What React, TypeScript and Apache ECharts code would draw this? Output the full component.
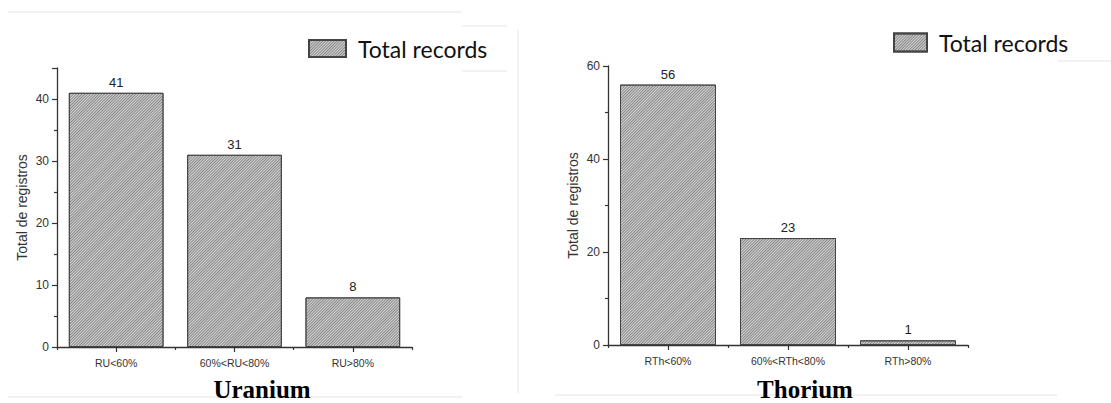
import React, { useEffect, useRef } from "react";
import * as echarts from "echarts";

const uraniumCategories = ["RU<60%", "60%<RU<80%", "RU>80%"];
const uraniumValues = [41, 31, 8];
const thoriumCategories = ["RTh<60%", "60%<RTh<80%", "RTh>80%"];
const thoriumValues = [56, 23, 1];
const seriesName = "Total records";
const yAxisName = "Total de registros";
const chartTitles = ["Uranium", "Thorium"];

const FONT = "'Liberation Sans', Arial, sans-serif";

export default function App() {
  const ref = useRef<HTMLDivElement>(null);
  useEffect(() => {
    document.body.style.margin = "0";
    if (!ref.current) return;
    const chart = echarts.init(ref.current, null, { renderer: "svg" });
    const decal = {
      symbol: "rect",
      symbolSize: 1,
      color: "#858585",
      dashArrayX: [1, 0],
      dashArrayY: [1, 1],
      rotation: -Math.PI / 4,
    };
    const barItem = {
      color: "#d6d6d6",
      borderColor: "#444",
      borderWidth: 1,
      decal,
    };
    const axisLine = { show: true, onZero: false, lineStyle: { color: "#333", width: 1.3 } };
    const grids = [
      { left: 57, top: 68, width: 355, height: 279 },
      { left: 608, top: 66, width: 360, height: 279 },
    ];
    const cats = [uraniumCategories, thoriumCategories];
    const xAxes: any[] = [];
    cats.forEach((c, i) => {
      xAxes.push({
        type: "category",
        gridIndex: i,
        position: "bottom",
        data: c,
        axisLine,
        axisTick: { show: true, length: 3, lineStyle: { color: "#333", width: 1.2 } },
        axisLabel: { color: "#333", fontFamily: FONT, fontSize: 10.5, margin: 10 },
      });
      xAxes.push({
        type: "category",
        gridIndex: i,
        position: "bottom",
        data: c,
        axisLine: { show: false },
        axisTick: { show: true, alignWithLabel: true, length: 5, lineStyle: { color: "#333", width: 1.2 } },
        axisLabel: { show: false },
      });
    });
    const yCommon = {
      type: "value",
      min: 0,
      name: yAxisName,
      nameLocation: "middle",
      nameGap: 28,
      nameTextStyle: { color: "#333", fontFamily: FONT, fontSize: 14 },
      axisLine: { show: true, lineStyle: { color: "#333", width: 1.3 } },
      axisTick: { show: true, length: 5, lineStyle: { color: "#333", width: 1.2 } },
      minorTick: { show: true, splitNumber: 2, length: 3, lineStyle: { color: "#333", width: 1.2 } },
      splitLine: { show: false },
      axisLabel: { color: "#333", fontFamily: FONT, fontSize: 12, margin: 8, showMaxLabel: false },
    };
    const yAxes = [
      { ...yCommon, gridIndex: 0, max: 45, interval: 10 },
      { ...yCommon, gridIndex: 1, max: 60, interval: 20, axisLabel: { ...yCommon.axisLabel, showMaxLabel: true } },
    ];
    const label = { show: true, position: "top", distance: 4, color: "#222", fontFamily: FONT, fontSize: 13 };
    const lineStyle = { stroke: "#e4e4e4", lineWidth: 1 };
    const legendText = { fontFamily: "Lato, 'Open Sans', sans-serif", fontSize: 23, color: "#111", padding: [0, 0, 0, 7] };
    const option: any = {
      animation: false,
      backgroundColor: "#ffffff",
      grid: grids,
      xAxis: xAxes,
      yAxis: yAxes,
      legend: [
        {
          data: [seriesName],
          left: 308,
          top: 37,
          padding: 0,
          itemWidth: 37,
          itemHeight: 17,
          icon: "rect",
          textStyle: legendText,
          selectedMode: false,
        },
        {
          data: [seriesName],
          left: 893,
          top: 31,
          padding: 0,
          itemWidth: 33,
          itemHeight: 18,
          icon: "rect",
          textStyle: legendText,
          selectedMode: false,
        },
      ],
      graphic: [
        { type: "line", shape: { x1: 8, y1: 12, x2: 462, y2: 12 }, style: lineStyle, silent: true },
        { type: "line", shape: { x1: 462, y1: 26, x2: 507, y2: 26 }, style: lineStyle, silent: true },
        { type: "line", shape: { x1: 462, y1: 71, x2: 507, y2: 71 }, style: lineStyle, silent: true },
        { type: "line", shape: { x1: 8, y1: 397, x2: 462, y2: 397 }, style: lineStyle, silent: true },
        { type: "line", shape: { x1: 518, y1: 30, x2: 518, y2: 393 }, style: lineStyle, silent: true },
        { type: "line", shape: { x1: 555, y1: 395, x2: 1057, y2: 395 }, style: lineStyle, silent: true },
        { type: "line", shape: { x1: 1058, y1: 61, x2: 1111, y2: 61 }, style: lineStyle, silent: true },
        {
          type: "text",
          x: 262,
          y: 389,
          style: { text: chartTitles[0], fill: "#000", font: "bold 25px 'Liberation Serif', 'Times New Roman', serif", textAlign: "center", textVerticalAlign: "middle" },
        },
        {
          type: "text",
          x: 805,
          y: 389,
          style: { text: chartTitles[1], fill: "#000", font: "bold 25px 'Liberation Serif', 'Times New Roman', serif", textAlign: "center", textVerticalAlign: "middle" },
        },
      ],
      series: [
        {
          name: seriesName,
          type: "bar",
          xAxisIndex: 0,
          yAxisIndex: 0,
          data: uraniumValues,
          barWidth: "80%",
          itemStyle: barItem,
          label,
        },
        {
          name: seriesName,
          type: "bar",
          xAxisIndex: 2,
          yAxisIndex: 1,
          data: thoriumValues,
          barWidth: "80%",
          itemStyle: barItem,
          label,
        },
      ],
    };
    chart.setOption(option);
    return () => chart.dispose();
  }, []);
  return <div ref={ref} style={{ width: 1111, height: 403 }} />;
}
